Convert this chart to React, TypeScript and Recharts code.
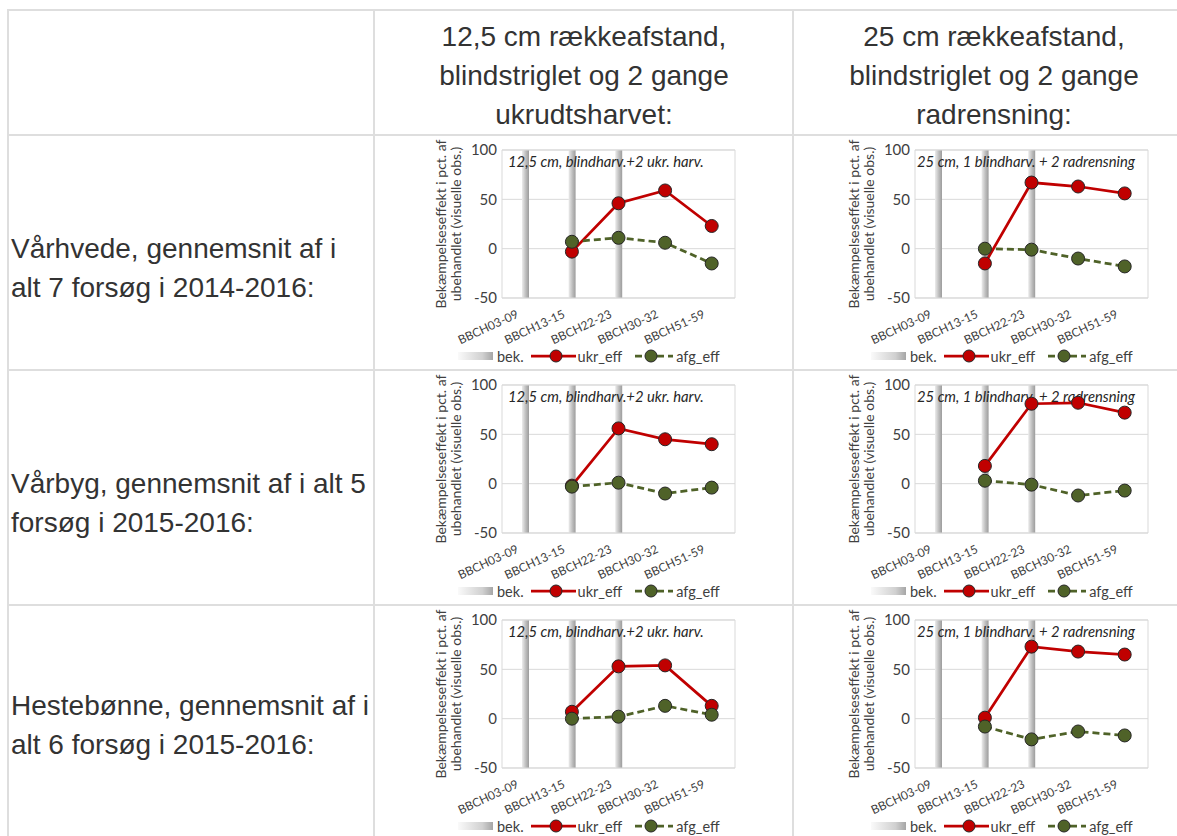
import React from 'react';
import { ComposedChart, Bar, Line, XAxis, YAxis, CartesianGrid, Legend, ReferenceLine, Label } from 'recharts';

// growth stages (x axis)
const categories = ['BBCH03-09', 'BBCH13-15', 'BBCH22-23', 'BBCH30-32', 'BBCH51-59'];
// 1 = treatment done at that stage (gray "bek." bars)
const bek = [1, 1, 1, 0, 0];
const yTicks = [-50, 0, 50, 100];
const yDomain: [number, number] = [-50, 100];

// Vårhvede
const vhv125Ukr = [null, -3, 46, 59, 23];
const vhv125Afg = [null, 7, 11, 6, -15];
const vhv25Ukr = [null, -15, 67, 63, 56];
const vhv25Afg = [null, 0, -1, -10, -18];
// Vårbyg
const vbg125Ukr = [null, -2, 56, 45, 40];
const vbg125Afg = [null, -3, 1, -10, -4];
const vbg25Ukr = [null, 18, 81, 82, 72];
const vbg25Afg = [null, 3, -1, -12, -7];
// Hestebønne
const hb125Ukr = [null, 7, 53, 54, 13];
const hb125Afg = [null, 0, 2, 13, 4];
const hb25Ukr = [null, 1, 73, 68, 65];
const hb25Afg = [null, -8, -21, -13, -17];

const note125 = '12,5 cm, blindharv.+2 ukr. harv.';
const note25 = '25 cm, 1 blindharv. + 2 radrensning';

const FONT = 'Lato, "Open Sans", sans-serif';
const GRID = '#d9d9d9';
const RED = '#c00000';
const GREEN = '#4f6228';

const buildData = (ukr: (number | null)[], afg: (number | null)[]) =>
  categories.map((cat, i) => ({
    cat,
    bek: bek[i] ? yDomain : null,
    ukr: ukr[i],
    afg: afg[i],
  }));

const XTick = (props: any) => {
  const { x, y, payload } = props;
  return (
    <g transform={`translate(${x - 6},${y + 19})`}>
      <text textAnchor="end" transform="rotate(-25)" fontSize={12} fill="#404040" fontFamily={FONT}>
        {payload.value}
      </text>
    </g>
  );
};

const YLabel = (props: any) => {
  const vb = props.viewBox || {};
  const cy = vb.y + vb.height / 2;
  return (
    <g fontFamily={FONT} fontSize={14} fill="#404040">
      <text transform={`translate(${vb.x + 24},${cy}) rotate(-90)`} textAnchor="middle">
        Bekæmpelseseffekt i pct. af
      </text>
      <text transform={`translate(${vb.x + 39},${cy}) rotate(-90)`} textAnchor="middle">
        ubehandlet (visuelle obs.)
      </text>
    </g>
  );
};

const NoteLabel = (props: any) => {
  const vb = props.viewBox || {};
  return (
    <text x={vb.x + props.dx} y={vb.y + 17} fontFamily={FONT} fontSize={14.8} fontStyle="italic" fill="#262626">
      {props.text}
    </text>
  );
};

const renderDot = (fill: string) => (p: any) => {
  if (p.cy == null || p.value == null) return <g key={`d-${p.index}`} />;
  return <circle key={`d-${p.index}`} cx={p.cx} cy={p.cy} r={6.5} fill={fill} stroke="#262626" strokeWidth={1} />;
};

const LegendBox = () => (
  <div
    style={{
      height: 20,
      display: 'flex',
      alignItems: 'center',
      paddingLeft: 36,
      fontFamily: FONT,
      fontSize: 14.5,
      color: '#404040',
      whiteSpace: 'nowrap',
    }}
  >
    <div style={{ width: 35, height: 8, background: 'linear-gradient(to right, #fafafa, #d0d0d0 70%, #a6a6a6)' }} />
    <span style={{ marginLeft: 4 }}>bek.</span>
    <svg width={45} height={14} style={{ marginLeft: 7 }}>
      <line x1={0} y1={7} x2={45} y2={7} stroke={RED} strokeWidth={2.75} />
      <circle cx={25} cy={7} r={6} fill={RED} stroke="#262626" />
    </svg>
    <span style={{ marginLeft: 2 }}>ukr_eff</span>
    <svg width={38} height={14} style={{ marginLeft: 13 }}>
      <line x1={0} y1={7} x2={38} y2={7} stroke={GREEN} strokeWidth={2.75} strokeDasharray="7 4" />
      <circle cx={16} cy={7} r={6} fill={GREEN} stroke="#262626" />
    </svg>
    <span style={{ marginLeft: 3 }}>afg_eff</span>
  </div>
);

type ChartProps = {
  id: string;
  ukr: (number | null)[];
  afg: (number | null)[];
  note: string;
  noteDx: number;
  left: number;
  top: number;
};

const EffectChart = ({ id, ukr, afg, note, noteDx, left, top }: ChartProps) => (
  <div style={{ position: 'absolute', left, top }}>
    <ComposedChart width={324} height={231} data={buildData(ukr, afg)} margin={{ top: 15, right: 10, left: 0, bottom: 0 }}>
      <defs>
        <linearGradient id={`bek-${id}`} x1="0" y1="0" x2="1" y2="0">
          <stop offset="0%" stopColor="#ececec" />
          <stop offset="55%" stopColor="#bdbdbd" />
          <stop offset="100%" stopColor="#9c9c9c" />
        </linearGradient>
      </defs>
      <CartesianGrid vertical={false} stroke={GRID} />
      <XAxis
        dataKey="cat"
        interval={0}
        height={48}
        tickLine={false}
        tickSize={0}
        tickMargin={0}
        axisLine={{ stroke: GRID }}
        tick={<XTick />}
      />
      <YAxis
        width={80}
        domain={yDomain}
        ticks={yTicks}
        tickLine={false}
        tickSize={0}
        tickMargin={5}
        axisLine={{ stroke: GRID }}
        tick={{ fontSize: 15, fill: '#404040', fontFamily: FONT }}
      >
        <Label content={<YLabel />} />
      </YAxis>
      <YAxis yAxisId="r" orientation="right" width={1} domain={yDomain} tick={false} tickLine={false} axisLine={{ stroke: GRID }} />
      <ReferenceLine y={100} stroke={GRID} label={<NoteLabel text={note} dx={noteDx} />} />
      <Bar dataKey="bek" barSize={7} fill={`url(#bek-${id})`} isAnimationActive={false} legendType="none" />
      <Line
        dataKey="ukr"
        stroke={RED}
        strokeWidth={2.75}
        dot={renderDot(RED)}
        activeDot={false}
        isAnimationActive={false}
      />
      <Line
        dataKey="afg"
        stroke={GREEN}
        strokeWidth={2.75}
        strokeDasharray="7 4"
        dot={renderDot(GREEN)}
        activeDot={false}
        isAnimationActive={false}
      />
      <Legend verticalAlign="bottom" content={<LegendBox />} />
    </ComposedChart>
  </div>
);

const BORDER = '#dedede';
const rowTops = [135, 370, 605];
const rowLabelOffsets = [94, 94, 81];
const rowLabels = [
  ['Vårhvede, gennemsnit af i', 'alt 7 forsøg i 2014-2016:'],
  ['Vårbyg, gennemsnit af i alt 5', 'forsøg i 2015-2016:'],
  ['Hestebønne, gennemsnit af i', 'alt 6 forsøg i 2015-2016:'],
];
const chartSeries = [
  [vhv125Ukr, vhv125Afg, vhv25Ukr, vhv25Afg],
  [vbg125Ukr, vbg125Afg, vbg25Ukr, vbg25Afg],
  [hb125Ukr, hb125Afg, hb25Ukr, hb25Afg],
];

export default function App() {
  const textStyle: React.CSSProperties = {
    position: 'absolute',
    fontSize: 28,
    lineHeight: '39px',
    whiteSpace: 'nowrap',
  };
  return (
    <div
      style={{
        position: 'fixed',
        left: 0,
        top: 0,
        width: 1177,
        height: 836,
        background: '#fff',
        fontFamily: '"Liberation Sans", Arial, sans-serif',
        color: '#333',
      }}
    >
      {/* table borders */}
      <div style={{ position: 'absolute', left: 7, top: 9, width: 1170, height: 2, background: BORDER }} />
      {rowTops.map((t) => (
        <div key={t} style={{ position: 'absolute', left: 7, top: t - 1, width: 1170, height: 2, background: BORDER }} />
      ))}
      {[8, 374, 793].map((x) => (
        <div key={x} style={{ position: 'absolute', left: x - 1, top: 9, width: 2, height: 827, background: BORDER }} />
      ))}

      {/* header */}
      <div style={{ ...textStyle, left: 375, width: 418, top: 17, textAlign: 'center' }}>
        12,5 cm rækkeafstand,
        <br />
        blindstriglet og 2 gange
        <br />
        ukrudtsharvet:
      </div>
      <div style={{ ...textStyle, left: 794, width: 400, top: 17, textAlign: 'center' }}>
        25 cm rækkeafstand,
        <br />
        blindstriglet og 2 gange
        <br />
        radrensning:
      </div>

      {rowTops.map((t, r) => (
        <React.Fragment key={r}>
          <div style={{ ...textStyle, left: 11, top: t + rowLabelOffsets[r] }}>
            {rowLabels[r][0]}
            <br />
            {rowLabels[r][1]}
          </div>
          <EffectChart
            id={`a${r}`}
            ukr={chartSeries[r][0]}
            afg={chartSeries[r][1]}
            note={note125}
            noteDx={6}
            left={422}
            top={t}
          />
          <EffectChart
            id={`b${r}`}
            ukr={chartSeries[r][2]}
            afg={chartSeries[r][3]}
            note={note25}
            noteDx={2}
            left={835}
            top={t}
          />
        </React.Fragment>
      ))}
    </div>
  );
}
